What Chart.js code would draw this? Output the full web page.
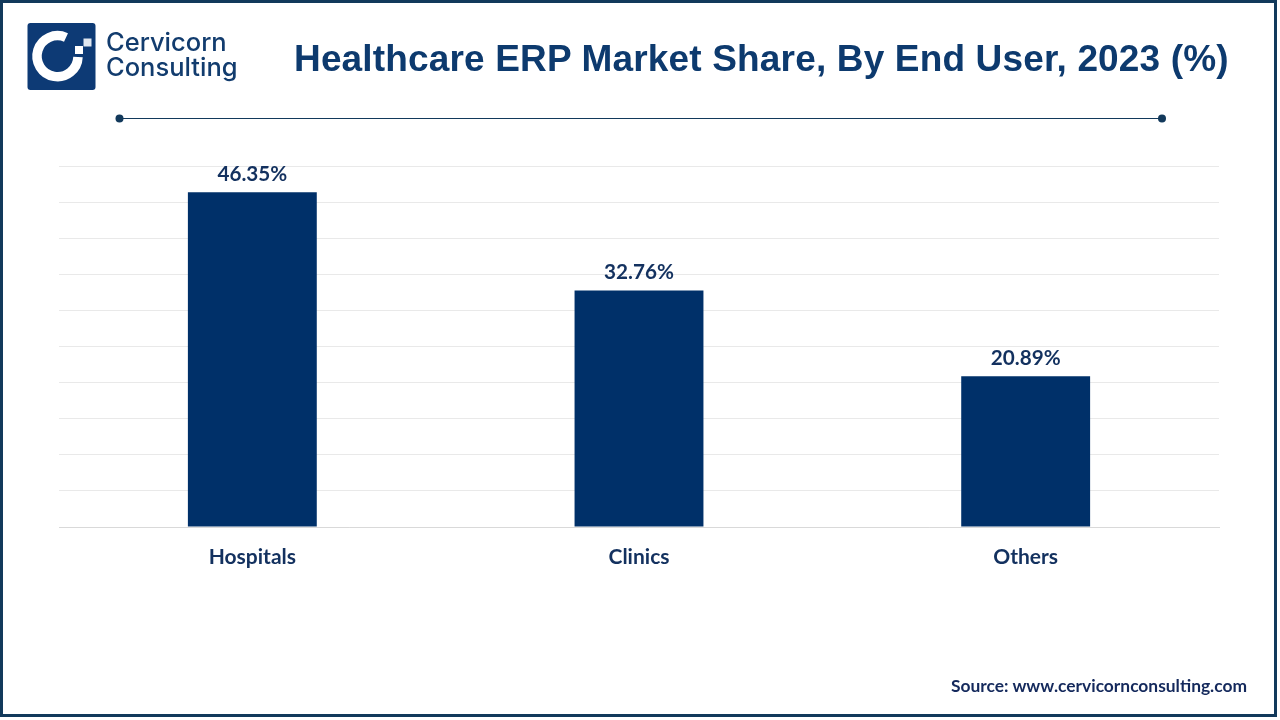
<!DOCTYPE html>
<html>
<head>
<meta charset="utf-8">
<title>Healthcare ERP Market Share, By End User, 2023 (%)</title>
<script src="https://cdn.jsdelivr.net/npm/chart.js@4/dist/chart.umd.min.js"></script>
<style>
  html, body { margin: 0; padding: 0; background: #fff; }
  #page { position: relative; width: 1280px; height: 720px; overflow: hidden; background: #fff; }
  #frame { position: absolute; left: 0; top: 0; width: 1271px; height: 711px; border: 3px solid #12395b; }
  #shareChart { position: absolute; left: 0; top: 0; }
  #logo { position: absolute; left: 0; top: 0; }
  .txt { position: absolute; white-space: nowrap; }
  #title { left: 294px; top: 38px; font: bold 37px "Liberation Sans", Arial, sans-serif; color: #0d3a6e; letter-spacing: 0.16px; }
  #brand1, #brand2 { left: 106px; font: 500 25.5px Inter, "Open Sans", sans-serif; color: #123c6e; }
  #brand1 { top: 26px; }
  #brand2 { top: 51px; }
  #source { left: 951px; top: 675px; font: bold 17.4px Lato, sans-serif; color: #14295c; }
</style>
</head>
<body>
<div id="page">
  <canvas id="shareChart" width="1280" height="720"></canvas>
  <div id="frame"></div>
  <svg id="logo" width="1280" height="130">
    <rect x="27.5" y="23" width="68" height="67" rx="3" fill="#0d3a75"/>
    <path d="M 66 37.5 A 20.5 20.5 0 1 0 78 57" fill="none" stroke="#fff" stroke-width="9.5"/>
    <rect x="75" y="46" width="8" height="8" fill="#fff"/>
    <rect x="83.5" y="38.5" width="8" height="8" fill="#dfe6ef"/>
    <line x1="119" y1="118.5" x2="1162" y2="118.5" stroke="#12395b" stroke-width="1"/>
    <circle cx="119.5" cy="118.5" r="4" fill="#12395b"/>
    <circle cx="1162" cy="118.5" r="4" fill="#12395b"/>
  </svg>
  <div class="txt" id="brand1">Cervicorn</div>
  <div class="txt" id="brand2">Consulting</div>
  <div class="txt" id="title">Healthcare ERP Market Share, By End User, 2023 (%)</div>
  <div class="txt" id="source">Source: www.cervicornconsulting.com</div>
</div>
<script>
const categories = ["Hospitals", "Clinics", "Others"];
const shareValues = [46.35, 32.76, 20.89];
const axisMax = 50;
const axisStep = 5;

// value labels above each bar
const valueLabels = {
  id: "valueLabels",
  afterDatasetsDraw(chart) {
    const c = chart.ctx;
    const bars = chart.getDatasetMeta(0).data;
    c.save();
    c.font = "bold 20.7px Lato, sans-serif";
    c.fillStyle = "#13315f";
    c.textAlign = "center";
    c.textBaseline = "alphabetic";
    bars.forEach((bar, i) => {
      c.fillText(shareValues[i].toFixed(2) + "%", bar.x, bar.y - 11);
    });
    c.restore();
  },
};

const shareChart = new Chart(document.getElementById("shareChart"), {
  type: "bar",
  data: {
    labels: categories,
    datasets: [
      {
        label: "Market share (%)",
        data: shareValues,
        backgroundColor: "#003069",
        barPercentage: 1,
        categoryPercentage: 1 / 3,
      },
    ],
  },
  options: {
    responsive: false,
    animation: false,
    layout: { padding: { left: 59, right: 61, top: 166, bottom: 0 } },
    plugins: {
      legend: { display: false },
      title: { display: false },
      tooltip: { enabled: false },
    },
    scales: {
      x: {
        grid: { display: false },
        border: { color: "#d9d9d9", width: 1 },
        ticks: {
          color: "#13315f",
          font: { family: "Lato, sans-serif", size: 21, weight: "bold" },
          padding: 10,
          maxRotation: 0,
        },
        afterFit(scale) {
          scale.height = 193;
        },
      },
      y: {
        min: 0,
        max: axisMax,
        ticks: { display: false, stepSize: axisStep },
        grid: { color: "#e9e9e9", lineWidth: 1, drawTicks: false },
        border: { display: false },
        afterFit(scale) {
          scale.width = 0;
        },
      },
    },
  },
  plugins: [valueLabels],
});
</script>
</body>
</html>
